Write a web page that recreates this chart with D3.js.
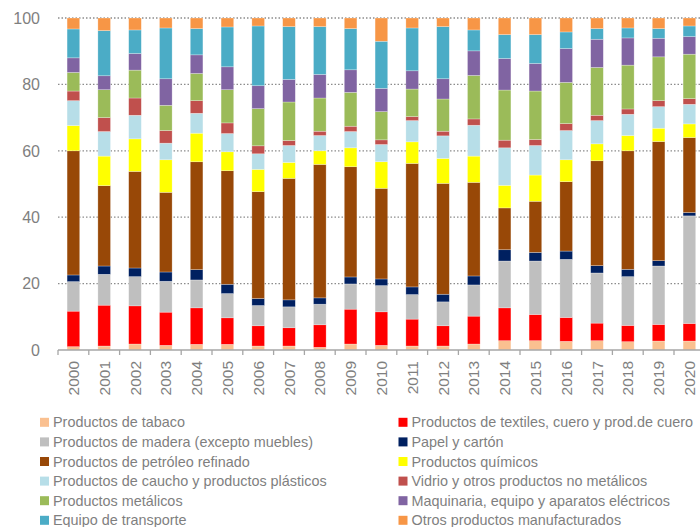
<!DOCTYPE html>
<html>
<head>
<meta charset="utf-8">
<script src="https://cdn.jsdelivr.net/npm/d3@7"></script>
<style>
  html, body { margin: 0; padding: 0; background: #fff; }
  svg { display: block; }
  text { font-family: "Liberation Sans", Arial, sans-serif; fill: #7f7f7f; }
</style>
</head>
<body>
<svg id="chart" width="700" height="527"></svg>
<script>
const years = ["2000","2001","2002","2003","2004","2005","2006","2007","2008","2009","2010",
               "2011","2012","2013","2014","2015","2016","2017","2018","2019","2020"];

const seriesNames = [
  "Productos de tabaco",
  "Productos de textiles, cuero y prod.de cuero",
  "Productos de madera (excepto muebles)",
  "Papel y cartón",
  "Productos de petróleo refinado",
  "Productos químicos",
  "Productos de caucho y productos plásticos",
  "Vidrio y otros productos no metálicos",
  "Productos metálicos",
  "Maquinaria, equipo y aparatos eléctricos",
  "Equipo de transporte",
  "Otros productos manufacturados"
];

const seriesColors = ["#FAC090","#FF0000","#BFBFBF","#002060","#984807","#FFFF00",
                      "#B7DEE8","#C0504D","#9BBB59","#8064A2","#4BACC6","#F79646"];

// values per series, one per year (2000..2020)
const tabaco      = [1.0,1.2,1.8,1.4,1.7,1.7,1.2,1.2,0.8,1.8,1.4,1.2,1.2,1.8,2.8,2.8,2.6,2.8,2.5,2.7,2.7];
const textiles    = [10.7,12.3,11.5,10.0,11.0,8.0,6.1,5.5,6.8,10.5,10.1,8.1,6.1,8.4,9.9,7.9,7.2,5.3,4.9,5.0,5.3];
const madera      = [8.9,9.3,8.8,9.3,8.4,7.3,6.1,6.3,6.2,7.6,7.9,7.4,7.2,9.4,14.1,16.1,17.5,15.1,14.7,17.6,32.4];
const papel       = [2.0,2.5,2.6,2.8,3.1,2.8,2.1,2.1,1.9,2.1,2.0,2.3,2.3,2.7,3.4,2.6,2.5,2.2,2.2,1.6,1.0];
const petroleo    = [37.4,24.2,29.1,24.0,32.5,34.2,32.2,36.6,40.2,33.2,27.3,37.2,33.4,28.2,12.6,15.4,20.9,31.6,35.7,35.9,22.6];
const quimicos    = [7.6,8.9,9.8,9.8,8.6,5.7,6.7,4.8,4.1,5.7,8.0,6.5,7.5,7.9,6.8,7.9,6.6,5.1,4.6,4.0,4.1];
const caucho      = [7.5,7.4,7.1,5.0,6.0,5.5,4.7,5.1,4.6,4.9,5.2,6.4,6.8,9.3,11.3,8.9,8.8,7.0,6.4,6.5,5.9];
const vidrio      = [2.9,4.2,5.2,3.8,3.8,3.2,2.4,1.5,1.3,1.6,1.4,1.2,1.4,1.9,2.3,1.8,2.1,1.6,1.6,1.8,1.7];
const metalicos   = [5.6,8.4,8.4,7.6,8.2,10.0,11.2,11.6,10.0,10.2,8.5,8.3,9.7,13.1,15.1,14.6,12.4,14.4,13.2,13.2,13.4];
const maquinaria  = [4.4,4.2,5.0,8.0,5.6,6.9,6.9,6.8,7.1,6.8,7.0,5.5,6.1,7.4,9.5,8.3,10.2,8.5,8.2,5.6,5.3];
const transporte  = [8.7,13.6,7.1,15.3,7.9,12.0,18.0,15.9,14.4,12.4,14.2,12.9,15.7,6.3,7.2,8.7,5.0,3.2,3.0,2.9,3.2];
const otros       = [3.3,3.8,3.6,3.0,3.2,2.7,2.4,2.6,2.6,3.2,7.0,3.0,2.6,3.6,5.0,5.0,4.2,3.2,3.0,3.2,2.4];

const yTicks = [0, 20, 40, 60, 80, 100];

const seriesValues = [tabaco, textiles, madera, papel, petroleo, quimicos, caucho,
                      vidrio, metalicos, maquinaria, transporte, otros];

// build table for d3.stack
const table = years.map((yr, i) => {
  const row = { year: yr };
  seriesNames.forEach((s, j) => { row[s] = seriesValues[j][i]; });
  return row;
});

const svg = d3.select("#chart");

const plotLeft = 58, plotRight = 704.8, plotTop = 18, plotBottom = 350;

const x = d3.scaleBand()
  .domain(years)
  .range([plotLeft, plotRight])
  .paddingInner(0.59)
  .paddingOuter(0.295);

const y = d3.scaleLinear().domain([0, 100]).range([plotBottom, plotTop]);

// gridlines
svg.append("g")
  .selectAll("line")
  .data(yTicks.filter(t => t > 0))
  .join("line")
  .attr("x1", plotLeft).attr("x2", 700)
  .attr("y1", d => y(d)).attr("y2", d => y(d))
  .attr("stroke", "#8c8c8c")
  .attr("stroke-width", 1.3)
  .attr("stroke-dasharray", "1.5,2");

// y labels
svg.append("g")
  .selectAll("text")
  .data(yTicks)
  .join("text")
  .attr("x", 40)
  .attr("y", d => y(d))
  .attr("dy", "0.36em")
  .attr("text-anchor", "end")
  .style("font-size", "16px")
  .text(d => d);

// stacked bars
const stack = d3.stack().keys(seriesNames);
const stacked = stack(table);

svg.append("g")
  .selectAll("g")
  .data(stacked)
  .join("g")
  .attr("fill", (d, i) => seriesColors[i])
  .selectAll("rect")
  .data(d => d)
  .join("rect")
  .attr("x", d => x(d.data.year))
  .attr("width", x.bandwidth())
  .attr("y", d => y(d[1]))
  .attr("height", d => y(d[0]) - y(d[1]))
  .attr("stroke", "rgba(255,255,255,0.45)")
  .attr("stroke-width", 0.6);

// x axis line
svg.append("line")
  .attr("x1", plotLeft).attr("x2", 700)
  .attr("y1", plotBottom).attr("y2", plotBottom)
  .attr("stroke", "#a6a6a6").attr("stroke-width", 1.5);

// x tick marks at category boundaries
const gap = (x.step() - x.bandwidth()) / 2;
const boundaries = years.map(yr => x(yr) - gap);
svg.append("g")
  .selectAll("line")
  .data(boundaries)
  .join("line")
  .attr("x1", d => d).attr("x2", d => d)
  .attr("y1", plotBottom).attr("y2", plotBottom + 5)
  .attr("stroke", "#a6a6a6").attr("stroke-width", 1.3);

// x labels
svg.append("g")
  .selectAll("text")
  .data(years)
  .join("text")
  .attr("transform", d => `translate(${x(d) + x.bandwidth() / 2},361) rotate(-90)`)
  .attr("dy", "0.36em")
  .attr("text-anchor", "end")
  .style("font-size", "15.5px")
  .text(d => d);

// legend
const legend = svg.append("g");
const legendItems = legend.selectAll("g")
  .data(seriesNames)
  .join("g")
  .attr("transform", (d, i) => {
    const col = i % 2, row = Math.floor(i / 2);
    return `translate(${col === 0 ? 40 : 398.5},${422.3 + row * 19.6})`;
  });

legendItems.append("rect")
  .attr("x", 0).attr("y", -4.5)
  .attr("width", 9).attr("height", 9)
  .attr("fill", (d, i) => seriesColors[i]);

legendItems.append("text")
  .attr("x", 13)
  .attr("y", 0)
  .attr("dy", "0.36em")
  .style("font-size", "14.4px")
  .text(d => d);
</script>
</body>
</html>
